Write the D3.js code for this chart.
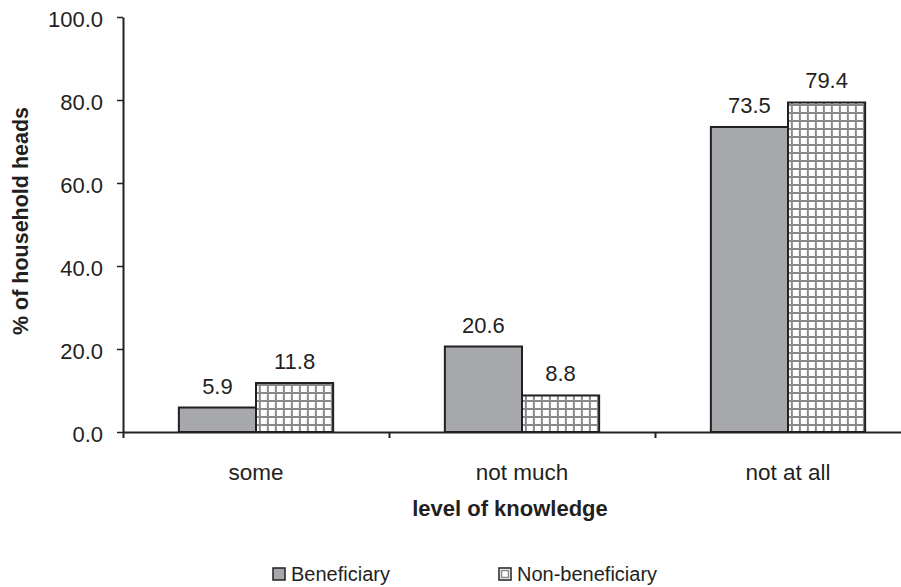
<!DOCTYPE html>
<html>
<head>
<meta charset="utf-8">
<script src="https://cdn.jsdelivr.net/npm/d3@7"></script>
<style>
  html, body { margin: 0; padding: 0; background: #fff; }
  svg { display: block; font-family: "Liberation Sans", Arial, sans-serif; }
</style>
</head>
<body>
<svg id="chart" width="901" height="587"></svg>
<script>
// Knowledge level of household heads, by group (% of household heads)
const categories = ["some", "not much", "not at all"];
const seriesNames = ["Beneficiary", "Non-beneficiary"];
const beneficiary = [5.9, 20.6, 73.5];
const nonBeneficiary = [11.8, 8.8, 79.4];
const yTicks = [0, 20, 40, 60, 80, 100];

const ink = "#231f20";
const barGrey = "#a7a8ab";

const svg = d3.select("#chart");
const plotLeft = 123, plotRight = 921, plotTop = 17, plotBottom = 432;

// Grid (checked) fill used for the second series
const defs = svg.append("defs");
const pat = defs.append("pattern")
  .attr("id", "grid")
  .attr("patternUnits", "userSpaceOnUse")
  .attr("width", 8).attr("height", 8);
pat.append("rect").attr("width", 8).attr("height", 8).attr("fill", "#fff");
pat.append("rect").attr("x", 0).attr("y", 0).attr("width", 8).attr("height", 2).attr("fill", "#8a8a8c");
pat.append("rect").attr("x", 0).attr("y", 0).attr("width", 2).attr("height", 8).attr("fill", "#8a8a8c");

const fills = [barGrey, "url(#grid)"];

const y = d3.scaleLinear().domain([0, 100]).range([plotBottom, plotTop]);
const x0 = d3.scaleBand().domain(categories).range([plotLeft, plotRight])
  .paddingInner(0.42).paddingOuter(0.21);
const x1 = d3.scaleBand().domain(seriesNames).range([0, x0.bandwidth()]);
const xb = d3.scaleLinear().domain([0, categories.length]).range([plotLeft, plotRight]);

const rows = categories.map((c, i) => ({
  cat: c,
  vals: [
    { s: seriesNames[0], v: beneficiary[i] },
    { s: seriesNames[1], v: nonBeneficiary[i] }
  ]
}));

// Bars
const g = svg.append("g");
const groups = g.selectAll("g.cat").data(rows).join("g")
  .attr("class", "cat")
  .attr("transform", d => `translate(${x0(d.cat)},0)`);

groups.selectAll("rect").data(d => d.vals).join("rect")
  .attr("x", d => x1(d.s))
  .attr("y", d => y(d.v))
  .attr("width", x1.bandwidth())
  .attr("height", d => y(0) - y(d.v))
  .attr("fill", (d, i) => fills[i])
  .attr("stroke", ink)
  .attr("stroke-width", 2);

// Value labels
groups.selectAll("text").data(d => d.vals).join("text")
  .attr("x", d => x1(d.s) + x1.bandwidth() / 2)
  .attr("y", d => y(d.v) - 14)
  .attr("text-anchor", "middle")
  .attr("font-size", 22)
  .attr("fill", ink)
  .text(d => d.v.toFixed(1));

// Y axis
const yAxis = svg.append("g")
  .attr("transform", `translate(${plotLeft},0)`)
  .call(d3.axisLeft(y).tickValues(yTicks).tickFormat(d3.format(".1f"))
    .tickSize(6).tickSizeOuter(0).tickPadding(14));
yAxis.select(".domain").attr("stroke", ink).attr("stroke-width", 2);
yAxis.selectAll(".tick line").attr("stroke", ink).attr("stroke-width", 1.5);
yAxis.selectAll(".tick text").attr("font-size", 22).attr("fill", ink)
  .attr("dy", "0.42em")
  .attr("font-family", "Liberation Sans, Arial, sans-serif");

// X axis (category boundaries)
const xAxis = svg.append("g")
  .attr("transform", `translate(0,${plotBottom})`)
  .call(d3.axisBottom(xb).tickValues(d3.range(categories.length + 1))
    .tickFormat("").tickSize(6).tickSizeOuter(0));
xAxis.select(".domain").attr("stroke", ink).attr("stroke-width", 2);
xAxis.selectAll(".tick line").attr("stroke", ink).attr("stroke-width", 2);

// Category labels
svg.append("g").selectAll("text").data(categories).join("text")
  .attr("x", d => x0(d) + x0.bandwidth() / 2)
  .attr("y", 480)
  .attr("text-anchor", "middle")
  .attr("font-size", 22.5)
  .attr("fill", ink)
  .text(d => d);

// Axis titles
svg.append("text")
  .attr("x", 510).attr("y", 516)
  .attr("text-anchor", "middle")
  .attr("font-size", 22).attr("font-weight", "bold")
  .attr("fill", ink)
  .text("level of knowledge");

svg.append("text")
  .attr("transform", "translate(28,221) rotate(-90)")
  .attr("text-anchor", "middle")
  .attr("font-size", 21.5).attr("font-weight", "bold")
  .attr("fill", ink)
  .text("% of household heads");

// Legend
const legendX = [273, 499];
const legend = svg.append("g").selectAll("g").data(seriesNames).join("g")
  .attr("transform", (d, i) => `translate(${legendX[i]},568)`);
legend.append("rect")
  .attr("x", 0).attr("y", 0).attr("width", 12).attr("height", 12)
  .attr("fill", (d, i) => i === 0 ? barGrey : "#fff")
  .attr("stroke", ink).attr("stroke-width", 1.5);
legend.filter((d, i) => i === 1).append("rect")
  .attr("x", 2.5).attr("y", 2.5).attr("width", 7).attr("height", 7)
  .attr("fill", "none").attr("stroke", "#8a8a8c").attr("stroke-width", 1.5);
legend.append("text")
  .attr("x", 18).attr("y", 13)
  .attr("font-size", 20).attr("fill", ink)
  .text(d => d);
</script>
</body>
</html>
